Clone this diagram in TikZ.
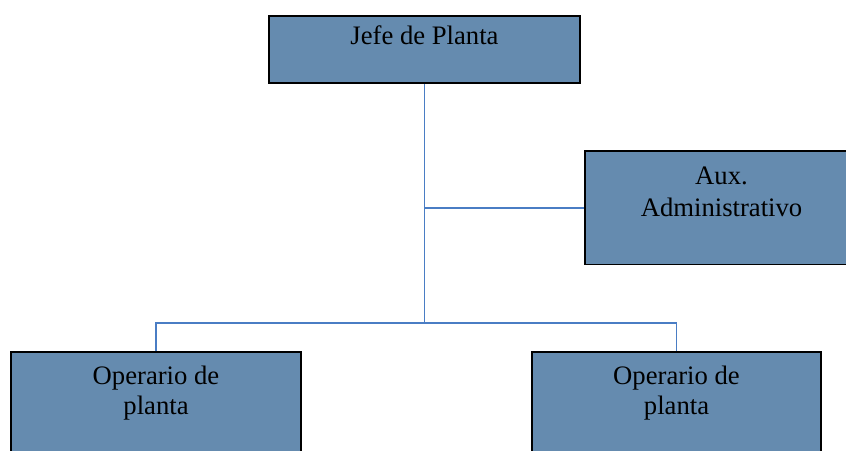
\documentclass[tikz,border=0pt]{standalone}
\usepackage{fontspec}
\setmainfont{Liberation Serif}
\definecolor{boxfill}{HTML}{658BAF}
\definecolor{linkblue}{HTML}{4A7DC4}
\begin{document}
\begin{tikzpicture}[x=0.75pt,y=-0.75pt,
  unit/.style={draw=black, line width=1.3pt, fill=boxfill, inner sep=0pt},
  caption/.style={font=\fontsize{20}{23}\selectfont, align=center, inner sep=0pt, anchor=north},
  link/.style={draw=linkblue, line width=1.4pt}]
\useasboundingbox (0,0) rectangle (846,450);
\clip (0,0) rectangle (846,450);

% boxes of the chart
\node[unit, minimum width=233.25pt, minimum height=50.25pt] (jefe) at (424.5,49.5) {};
\node[unit, minimum width=204.75pt, minimum height=85.1pt] (aux) at (721.5,207.75) {};
\node[unit, minimum width=217.5pt, minimum height=88.5pt] (op1) at (156,411) {};
\node[unit, minimum width=216.75pt, minimum height=88.5pt] (op2) at (676.5,411) {};

% captions, set near the top of each box
\node[caption] (jefeT) at (424.5,25) {Jefe de Planta};
\node[caption, font=\fontsize{20}{24}\selectfont] (auxT) at (721.5,167) {Aux.\\Administrativo};
\node[caption] (op1T) at (156,365.5) {Operario de\\planta};
\node[caption] (op2T) at (676.5,365.5) {Operario de\\planta};

% connectors
\coordinate (hub) at (jefe.south |- 0,323);
\draw[link] (jefe.south) -- (hub);
\draw[link] (jefe.south |- aux.west) -- (aux.west);
\draw[link] (op1.north) |- (hub) -| (op2.north);
\end{tikzpicture}
\end{document}
